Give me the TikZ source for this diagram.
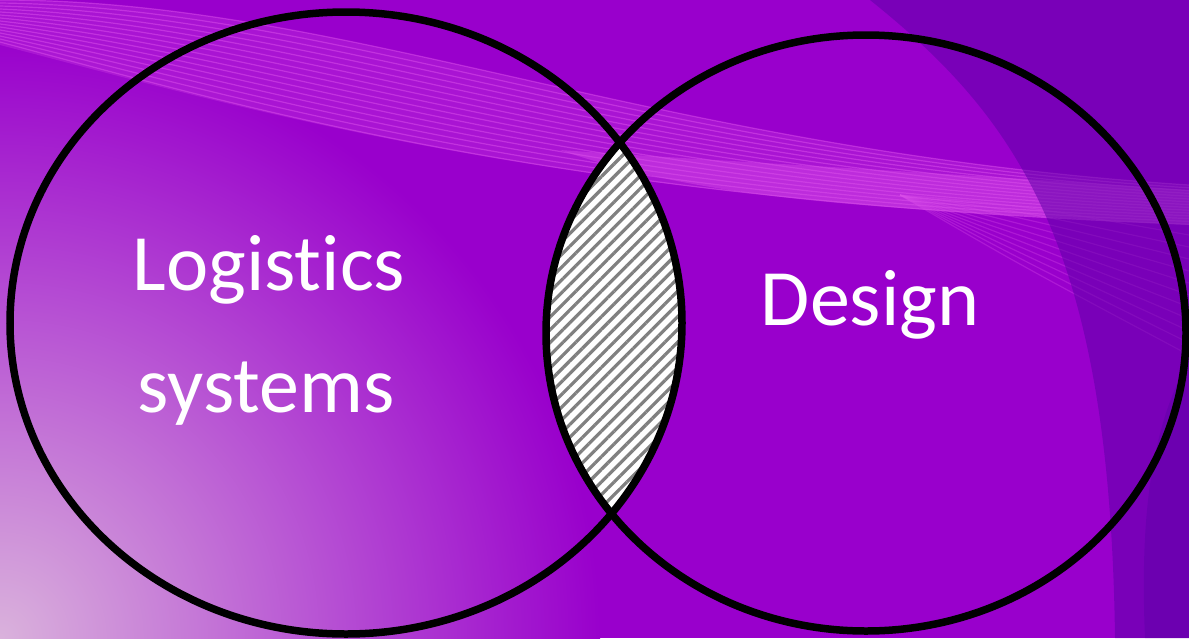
\documentclass[tikz,border=0pt]{standalone}
\usepackage{fontspec}
\setmainfont[Ligatures=NoCommon]{Carlito}
\usetikzlibrary{patterns.meta}

\definecolor{bgpurple}{RGB}{153,0,204}
\definecolor{glowpink}{RGB}{218,178,220}
\definecolor{bandpink}{RGB}{220,80,235}
\definecolor{deeppurple}{RGB}{90,0,165}

\begin{document}
\begin{tikzpicture}[
    x=1pt, y=-1pt,
    setline/.style={draw=black, line width=7.5pt},
    setlabel/.style={text=white, font=\fontsize{80}{120}\selectfont, inner sep=0pt},
    stripe/.style={draw=bandpink, line width=1.2pt, opacity=0.5},
    hatch/.style={pattern={Lines[angle=45, distance=9pt, line width=3.2pt]}, pattern color=gray}
]
\useasboundingbox (0,0) rectangle (1189,638);

% Background
\begin{scope}
\clip (0,0) rectangle (1189,638);
\fill[bgpurple] (0,0) rectangle (1189,638);
\shade[inner color=glowpink, outer color=bgpurple] (0,638) circle (600pt);
\fill[bandpink, opacity=0.25] (0,0) .. controls (350,0) and (650,150) .. (1189,185)
    -- (1189,225) .. controls (550,200) and (250,110) .. (0,45) -- cycle;
\foreach \k in {0,...,14}
    \draw[stripe] (0,{3*\k}) .. controls ({350-7*\k},{7.8*\k}) and ({650-7*\k},{150+3.6*\k}) .. (1189,{185+2.8*\k});
\fill[bandpink, opacity=0.4] (560,150) .. controls (700,160) and (900,170) .. (1189,190)
    -- (1189,225) .. controls (900,208) and (720,205) .. (560,150) -- cycle;
\foreach \k in {0,...,10}
    \draw[stripe, opacity=0.3] (900,195) .. controls (1020,{205+6*\k}) .. (1189,{235+12*\k});
\fill[deeppurple, opacity=0.5] (870,0) .. controls (1020,120) and (1110,250) .. (1115,638)
    -- (1189,638) -- (1189,0) -- cycle;
\fill[deeppurple, opacity=0.4] (1189,360) .. controls (1150,430) and (1140,520) .. (1145,638)
    -- (1189,638) -- cycle;
\end{scope}

% Overlap of the two sets
\begin{scope}
\clip (346,323) ellipse [x radius=336pt, y radius=311pt];
\fill[white] (866,333) ellipse [x radius=320pt, y radius=298pt];
\fill[hatch] (866,333) ellipse [x radius=320pt, y radius=298pt];
\end{scope}

% Sets
\draw[setline] (346,323) ellipse [x radius=336pt, y radius=311pt];
\draw[setline] (866,333) ellipse [x radius=320pt, y radius=298pt];

% Labels
\node[setlabel, anchor=base] (logistics) at (269,290) {Logistics};
\node[setlabel, anchor=base] (systems) at (266,412) {systems};
\node[setlabel, anchor=base] (design) at (870,325) {Design};

\end{tikzpicture}
\end{document}
